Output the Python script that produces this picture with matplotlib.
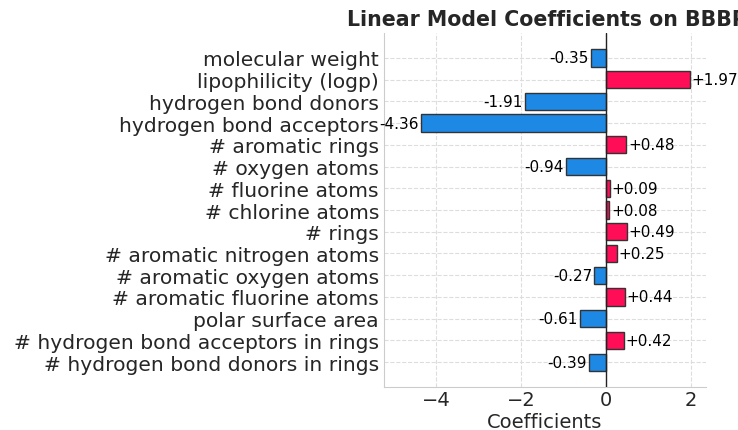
import numpy as np
import matplotlib
matplotlib.use("Agg")
import matplotlib.pyplot as plt
import seaborn as sns

# ----- Data -----
features = [
    "molecular weight",
    "lipophilicity (logp)",
    "hydrogen bond donors",
    "hydrogen bond acceptors",
    "# aromatic rings",
    "# oxygen atoms",
    "# fluorine atoms",
    "# chlorine atoms",
    "# rings",
    "# aromatic nitrogen atoms",
    "# aromatic oxygen atoms",
    "# aromatic fluorine atoms",
    "polar surface area",
    "# hydrogen bond acceptors in rings",
    "# hydrogen bond donors in rings",
]
coefs = [-0.35, 1.97, -1.91, -4.36, 0.48, -0.94, 0.09, 0.08,
         0.49, 0.25, -0.27, 0.44, -0.61, 0.42, -0.39]

# ----- Plot setup -----
sns.set_style("whitegrid", {"grid.linestyle": "--", "axes.edgecolor": "#cccccc"})
plt.rcParams['font.family'] = ['DejaVu Sans']

fig, ax = plt.subplots(figsize=(7.38, 4.31), dpi=100)
fig.subplots_adjust(left=0.520, right=0.957, bottom=0.0998, top=0.921)

y = np.arange(len(features))
colors = ["#FF0D57" if c > 0 else "#1E88E5" for c in coefs]
ax.barh(y, coefs, height=0.8, color=colors, edgecolor="#333333", linewidth=1, zorder=3)
ax.axvline(0, color="#222222", linewidth=1, zorder=4)

for yi, c in zip(y, coefs):
    if c > 0:
        ax.text(c + 0.05, yi, f"+{c:.2f}", va="center", ha="left", fontsize=11, color="black")
    else:
        ax.text(c - 0.05, yi, f"{c:.2f}", va="center", ha="right", fontsize=11, color="black")

ax.set_yticks(y)
ax.set_yticklabels(features, fontsize=14.6)
ax.set_xticks([-4, -2, 0, 2])
ax.tick_params(axis="y", length=0, pad=3.5)
ax.tick_params(axis="x", length=0, pad=2, labelsize=14)
ax.invert_yaxis()
ax.set_xlim(min(coefs) * 1.2, max(coefs) * 1.2)
ax.set_xlabel("Coefficients", fontsize=14, labelpad=2)
# title is wider than the right part of the figure, so it runs off the edge
ax.set_title("Linear Model Coefficients on BBBP", fontsize=14.8, fontweight="bold", x=0.505)
ax.grid(True, color="#dddddd", linestyle="--", linewidth=0.8)
for side in ["top", "right"]:
    ax.spines[side].set_visible(False)

fig.savefig("out.png", dpi=100)
